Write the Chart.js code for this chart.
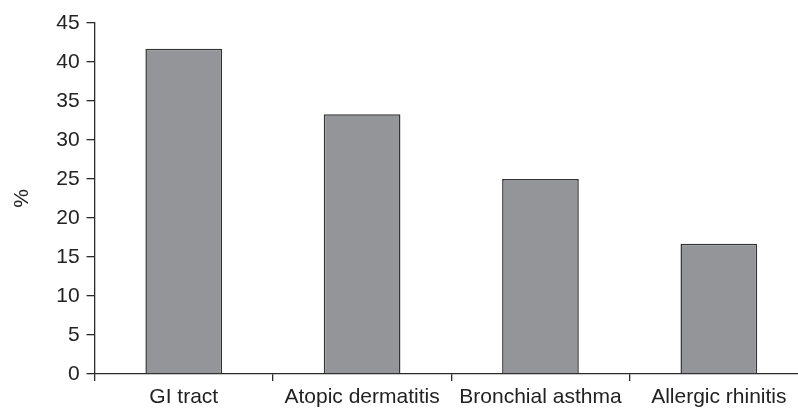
<!DOCTYPE html>
<html>
<head>
<meta charset="utf-8">
<script src="https://cdn.jsdelivr.net/npm/chart.js@4/dist/chart.umd.min.js"></script>
<style>
  html, body { margin: 0; padding: 0; background: #fff; overflow: hidden; }
  #wrap { position: relative; width: 808px; height: 408px; }
</style>
</head>
<body>
<div id="wrap"><canvas id="chart"></canvas></div>
<script>
const categories = ['GI tract', 'Atopic dermatitis', 'Bronchial asthma', 'Allergic rhinitis'];
const percentValues = [41.7, 33.3, 25.0, 16.7];
const yTicks = [0, 5, 10, 15, 20, 25, 30, 35, 40, 45];

const axisColor = '#2b2b2b';
const textColor = '#222';
const font = { family: 'Liberation Sans, Arial', size: 21 };

const chart = new Chart(document.getElementById('chart').getContext('2d'), {
  type: 'bar',
  data: {
    labels: categories,
    datasets: [
      {
        label: '%',
        data: percentValues,
        backgroundColor: '#939598',
        borderColor: '#333',
        borderWidth: 1.5,
        categoryPercentage: 1,
        barPercentage: 0.43,
      },
    ],
  },
  options: {
    responsive: true,
    maintainAspectRatio: false,
    animation: false,
    layout: { padding: { left: 4, top: 23, bottom: 0, right: 0 } },
    plugins: {
      legend: { display: false },
      tooltip: { enabled: false },
    },
    scales: {
      x: {
        afterFit: (scale) => { scale.height = 34; },
        border: { color: axisColor, width: 1.3 },
        grid: {
          drawOnChartArea: false,
          drawTicks: true,
          tickLength: 7,
          color: axisColor,
          lineWidth: 1.3,
        },
        ticks: {
          color: textColor,
          font: font,
          padding: 4,
          maxRotation: 0,
        },
      },
      y: {
        min: 0,
        max: 45,
        afterBuildTicks: (axis) => { axis.ticks = yTicks.map(v => ({ value: v })); },
        border: { color: axisColor, width: 1.3 },
        grid: {
          drawOnChartArea: false,
          drawTicks: true,
          tickLength: 8,
          color: axisColor,
          lineWidth: 1.3,
        },
        ticks: {
          color: textColor,
          font: font,
          padding: 7,
        },
        title: {
          display: true,
          text: '%',
          color: textColor,
          font: font,
          padding: { top: 6, bottom: 14 },
        },
      },
    },
  },
});
</script>
</body>
</html>
